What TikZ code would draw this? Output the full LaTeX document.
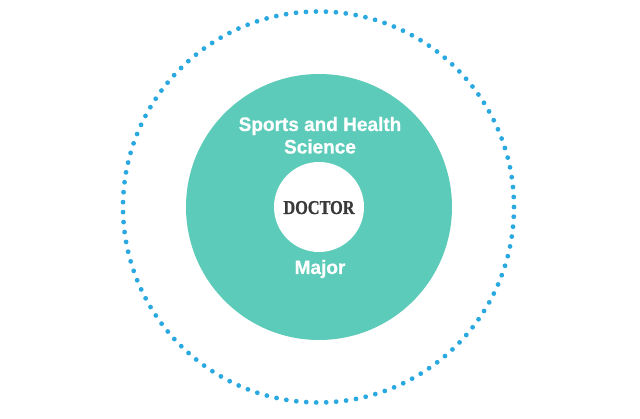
\documentclass[tikz,border=0pt]{standalone}
\usepackage{fontspec}
\setmainfont{Liberation Sans}
\newfontfamily\labelfont[FakeStretch=0.975,FakeBold=0.6]{Liberation Sans}
\newfontfamily\doctorfont[FakeStretch=0.83,FakeBold=0.8]{Liberation Serif}
\definecolor{tealfill}{HTML}{5DCBB9}
\definecolor{dotblue}{HTML}{2AA8E0}
\definecolor{darktext}{HTML}{3A3A3A}
\begin{document}
\begin{tikzpicture}[x=1pt,y=-1pt,
  ringdots/.style={draw=dotblue,line width=4.8pt,line cap=round,dash pattern=on 0pt off 9.99pt},
  whitelabel/.style={text=white,font=\labelfont\bfseries\fontsize{19.5}{23}\selectfont,align=center,inner sep=0pt}]
\useasboundingbox (0,0) rectangle (640,419);
\node[circle,ringdots,minimum size=391pt,inner sep=0pt] (ring) at (318.5,207) {};
\node[circle,fill=tealfill,minimum size=266pt,inner sep=0pt] (major) at (319,207) {};
\node[circle,fill=white,minimum size=90pt,inner sep=0pt] (core) at (319,207) {};
\node[text=darktext,font=\doctorfont\bfseries\fontsize{19.6}{20}\selectfont,inner sep=0pt,anchor=base] (doctor) at (319,214) {DOCTOR};
\node[whitelabel,anchor=base] (sports) at (320,131) {Sports and Health};
\node[whitelabel,anchor=base] (science) at (320,153.5) {Science};
\node[whitelabel,anchor=base] (majortext) at (320,274) {Major};
\end{tikzpicture}
\end{document}
